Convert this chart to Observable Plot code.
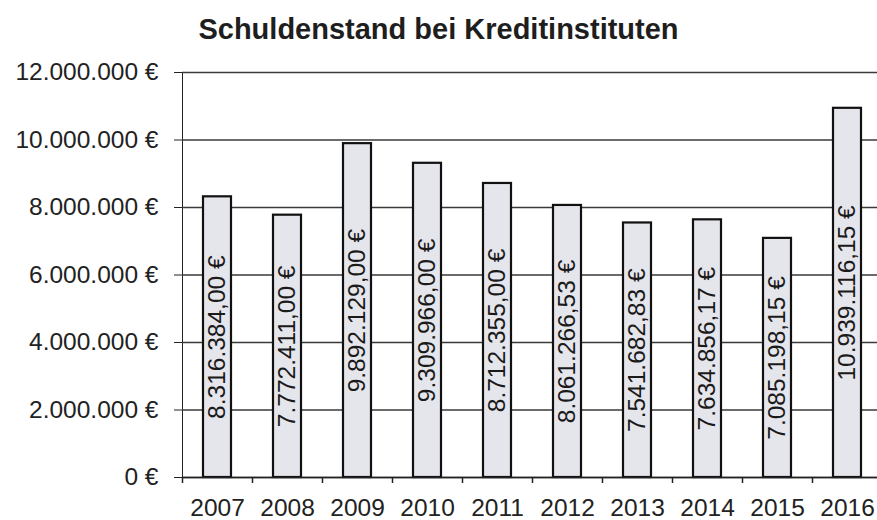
<!DOCTYPE html>
<html><head><meta charset="utf-8">
<script src="https://cdn.jsdelivr.net/npm/d3@7"></script>
<script src="https://cdn.jsdelivr.net/npm/@observablehq/plot@0.6"></script>
<style>
body{margin:0;background:#fff;}
#wrap{position:relative;width:877px;height:520px;overflow:hidden;font-family:"Liberation Sans",Arial,sans-serif;background:#fff;}
#title{position:absolute;left:0;top:15px;width:877px;text-align:center;font-weight:bold;font-size:29px;line-height:29px;color:#1e1e1e;}
#chart{position:absolute;left:0;top:56px;}
</style></head><body>
<div id="wrap"><div id="title">Schuldenstand bei Kreditinstituten</div><div id="chart"></div></div>
<script>
const years = ["2007","2008","2009","2010","2011","2012","2013","2014","2015","2016"];
const values = [8316384.00, 7772411.00, 9892129.00, 9309966.00, 8712355.00, 8061266.53, 7541682.83, 7634856.17, 7085198.15, 10939116.15];
const yTicks = [0, 2000000, 4000000, 6000000, 8000000, 10000000, 12000000];

const de = d3.formatLocale({decimal: ",", thousands: ".", grouping: [3], currency: ["", " €"]});
const fmtVal = de.format(",.2f");
const fmtTick = de.format(",.0f");
const data = years.map((y, i) => ({year: y, value: values[i]}));

const W = 877, H = 464, mL = 182, mR = -5, mT = 16, mB = 43;
const step = (W - mL - mR) / years.length;

const chart = Plot.plot({
  width: W, height: H,
  marginLeft: mL, marginRight: mR, marginTop: mT, marginBottom: mB,
  style: {fontFamily: '"Liberation Sans", Arial, sans-serif', fontSize: "24.5px", color: "#222", background: "transparent", overflow: "hidden"},
  x: {domain: years, padding: 0, tickSize: 0, tickPadding: 21, label: null},
  y: {domain: [0, 12000000], ticks: yTicks, tickFormat: d => fmtTick(d) + " €", tickSize: 8, tickPadding: 16, label: null, line: true},
  marks: [
    Plot.ruleY(yTicks, {y: d => d, stroke: "#3a3a3a", strokeWidth: 1.5}),
    Plot.barY(data, {x: "year", y: "value", fill: "#e5e5ec", stroke: "#111", strokeWidth: 2.2, insetLeft: 21, insetRight: 21}),
    Plot.text(data, {x: "year", y: d => d.value / 2, text: d => fmtVal(d.value) + " €", rotate: -90, fontSize: 24.5, fill: "#1a1a1a"}),
    Plot.ruleX(years, {x: d => d, y1: 0, y2: 0, insetBottom: -6, dx: -step / 2, stroke: "#222", strokeWidth: 1.5}),
    Plot.ruleY([0], {stroke: "#222", strokeWidth: 1.5})
  ]
});
document.getElementById("chart").appendChild(chart);
</script>
</body></html>
